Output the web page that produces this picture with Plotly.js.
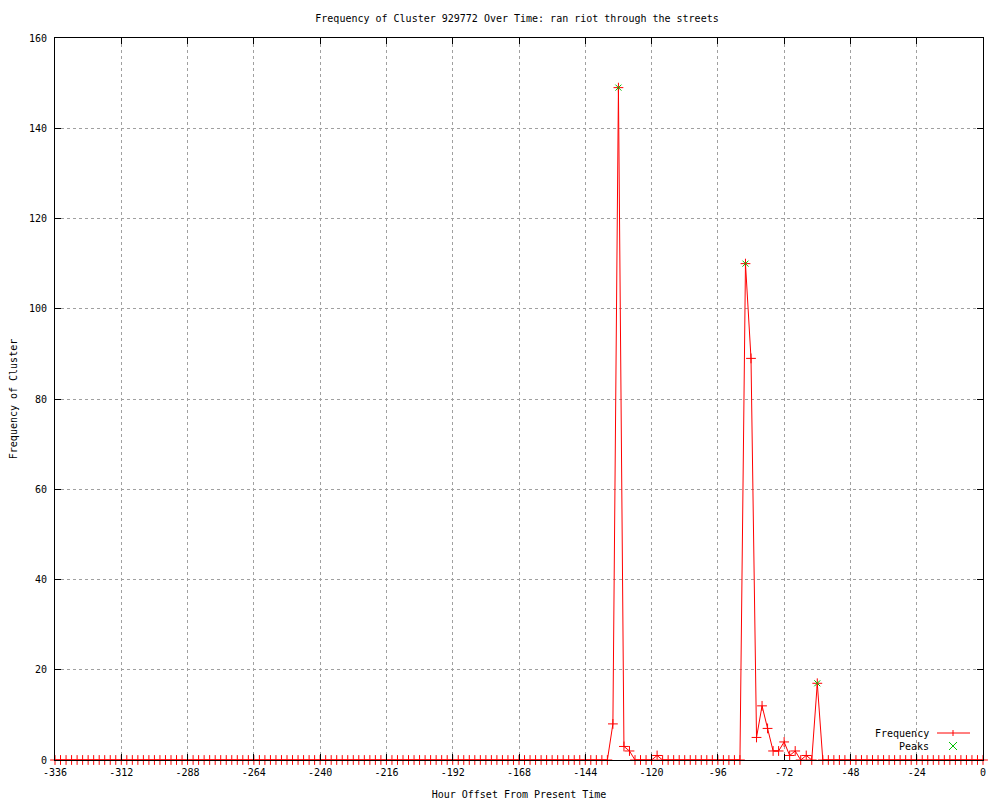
<!DOCTYPE html>
<html>
<head>
<meta charset="utf-8">
<script src="https://cdn.plot.ly/plotly-3.0.1.min.js"></script>
<style>html,body{margin:0;padding:0;background:#fff;}#chart{width:1000px;height:800px;}</style>
</head>
<body>
<div id="chart"></div>
<script>
// Hour offsets (every 2 hours)
const hours = [
  -336,-334,-332,-330,-328,-326,-324,-322,-320,-318,-316,-314,
  -312,-310,-308,-306,-304,-302,-300,-298,-296,-294,-292,-290,
  -288,-286,-284,-282,-280,-278,-276,-274,-272,-270,-268,-266,
  -264,-262,-260,-258,-256,-254,-252,-250,-248,-246,-244,-242,
  -240,-238,-236,-234,-232,-230,-228,-226,-224,-222,-220,-218,
  -216,-214,-212,-210,-208,-206,-204,-202,-200,-198,-196,-194,
  -192,-190,-188,-186,-184,-182,-180,-178,-176,-174,-172,-170,
  -168,-166,-164,-162,-160,-158,-156,-154,-152,-150,-148,-146,
  -144,-142,-140,-138,-136,-134,-132,-130,-128,-126,-124,-122,
  -120,-118,-116,-114,-112,-110,-108,-106,-104,-102,-100,-98,
  -96,-94,-92,-90,-88,-86,-84,-82,-80,-78,-76,-74,
  -72,-70,-68,-66,-64,-62,-60,-58,-56,-54,-52,-50,
  -48,-46,-44,-42,-40,-38,-36,-34,-32,-30,-28,-26,
  -24,-22,-20,-18,-16,-14,-12,-10,-8,-6,-4,-2,
  0
];
const frequency = [
  0,0,0,0,0,0,0,0,0,0,0,0,
  0,0,0,0,0,0,0,0,0,0,0,0,
  0,0,0,0,0,0,0,0,0,0,0,0,
  0,0,0,0,0,0,0,0,0,0,0,0,
  0,0,0,0,0,0,0,0,0,0,0,0,
  0,0,0,0,0,0,0,0,0,0,0,0,
  0,0,0,0,0,0,0,0,0,0,0,0,
  0,0,0,0,0,0,0,0,0,0,0,0,
  0,0,0,0,0,8,149,3,2,0,0,0,
  0,1,0,0,0,0,0,0,0,0,0,0,
  0,0,0,0,0,110,89,5,12,7,2,2,
  4,1,2,0,1,0,17,0,0,0,0,0,
  0,0,0,0,0,0,0,0,0,0,0,0,
  0,0,0,0,0,0,0,0,0,0,0,0,
  0
];
const peakHours = [-132, -86, -60];
const peakValues = [149, 110, 17];

const xTickVals = [-336,-312,-288,-264,-240,-216,-192,-168,-144,-120,-96,-72,-48,-24,0];
const xTickText = ['-336','-312','-288','-264','-240','-216','-192','-168','-144','-120','-96','-72','-48','-24','0'];
const yTickVals = [0,20,40,60,80,100,120,140,160];
const yTickText = ['0','20','40','60','80','100','120','140','160'];

const FONT = {family: '"DejaVu Sans Mono", "Liberation Mono", monospace', size: 10, color: '#000'};

const traces = [
  {
    x: hours, y: frequency, type: 'scatter', mode: 'lines+markers', name: 'Frequency',
    line: {color: '#ff0000', width: 1},
    marker: {symbol: 'cross-thin-open', size: 7, color: '#ff0000', line: {color: '#ff0000', width: 1}},
    cliponaxis: false, showlegend: false
  },
  {
    x: peakHours, y: peakValues, type: 'scatter', mode: 'markers', name: 'Peaks',
    marker: {symbol: 'x-thin-open', size: 6, color: '#00c000', line: {color: '#00c000', width: 1}},
    cliponaxis: false, showlegend: false
  }
];

// legend drawn in paper coordinates (gnuplot style: text then sample)
const px = v => (v - 55) / 928;
const py = v => (760 - v) / 722;
const shapes = [
  {type:'line', xref:'paper', yref:'paper', x0:px(937), x1:px(970), y0:py(733), y1:py(733), line:{color:'#ff0000', width:1}},
  {type:'line', xref:'paper', yref:'paper', x0:px(953), x1:px(953), y0:py(730), y1:py(736), line:{color:'#ff0000', width:1}},
  {type:'line', xref:'paper', yref:'paper', x0:px(949), x1:px(957), y0:py(742), y1:py(750), line:{color:'#00c000', width:1}},
  {type:'line', xref:'paper', yref:'paper', x0:px(949), x1:px(957), y0:py(750), y1:py(742), line:{color:'#00c000', width:1}}
];
const annotations = [
  {xref:'paper', yref:'paper', x:px(931), y:py(733), text:'Frequency', showarrow:false, xanchor:'right', yanchor:'middle', font:FONT},
  {xref:'paper', yref:'paper', x:px(931), y:py(746), text:'Peaks', showarrow:false, xanchor:'right', yanchor:'middle', font:FONT}
];

const layout = {
  width: 1000, height: 800,
  paper_bgcolor: '#fff', plot_bgcolor: '#fff',
  margin: {l: 55, r: 17, t: 38, b: 40, pad: 0},
  font: FONT,
  title: {text: 'Frequency of Cluster 929772 Over Time: ran riot through the streets', font: FONT,
          x: 0.517, xanchor: 'center', y: 1 - 18/800, yanchor: 'middle', xref: 'container', yref: 'container'},
  xaxis: {
    range: [-336, 0], tickmode: 'array', tickvals: xTickVals, ticktext: xTickText,
    ticks: 'inside', ticklen: 6, tickcolor: '#000', tickwidth: 1,
    showline: true, linecolor: '#000', linewidth: 1, mirror: 'ticks',
    showgrid: true, gridcolor: '#a0a0a0', gridwidth: 1, griddash: '3px,3px',
    zeroline: false, tickfont: FONT, ticklabelstandoff: 3,
    title: {text: 'Hour Offset From Present Time', font: FONT, standoff: 13}
  },
  yaxis: {
    range: [0, 160], tickmode: 'array', tickvals: yTickVals, ticktext: yTickText,
    ticks: 'inside', ticklen: 6, tickcolor: '#000', tickwidth: 1,
    showline: true, linecolor: '#000', linewidth: 1, mirror: 'ticks',
    showgrid: true, gridcolor: '#a0a0a0', gridwidth: 1, griddash: '3px,3px',
    zeroline: false, tickfont: FONT, ticklabelstandoff: 5,
    title: {text: 'Frequency of Cluster', font: FONT, standoff: 9}
  },
  shapes: shapes,
  annotations: annotations,
  showlegend: false
};

Plotly.newPlot('chart', traces, layout, {displayModeBar: false, staticPlot: true});
</script>
</body>
</html>
